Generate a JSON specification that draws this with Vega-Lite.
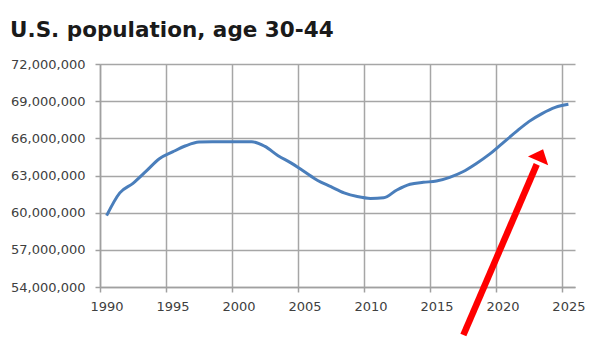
{
  "$schema": "https://vega.github.io/schema/vega-lite/v6.json",
  "autosize": "none",
  "width": 475,
  "height": 223,
  "padding": {"left": 100, "top": 64, "right": 36, "bottom": 61},
  "background": "white",
  "title": {
    "text": "U.S. population, age 30-44",
    "anchor": "start",
    "frame": "group",
    "orient": "top",
    "dx": -90,
    "offset": 0,
    "baseline": "alphabetic",
    "font": "DejaVu Sans",
    "fontSize": 21.5,
    "fontWeight": "bold",
    "color": "#1a1a1a"
  },
  "config": {
    "view": {"stroke": null},
    "axis": {
      "labelFont": "DejaVu Sans",
      "labelFontSize": 13,
      "labelColor": "#404040",
      "gridColor": "#a6a6a6",
      "gridWidth": 1.5,
      "domainColor": "#a0a0a0",
      "domainWidth": 1.5,
      "tickColor": "#a0a0a0",
      "tickWidth": 1.5,
      "tickSize": 5,
      "title": null
    }
  },
  "datasets": {
    "pop": [
      {"year": 1990, "population": 59760000},
      {"year": 1991, "population": 61600000},
      {"year": 1992, "population": 62370000},
      {"year": 1993, "population": 63350000},
      {"year": 1994, "population": 64350000},
      {"year": 1995, "population": 64900000},
      {"year": 1996, "population": 65400000},
      {"year": 1997, "population": 65700000},
      {"year": 1998, "population": 65730000},
      {"year": 1999, "population": 65730000},
      {"year": 2000, "population": 65730000},
      {"year": 2001, "population": 65730000},
      {"year": 2002, "population": 65350000},
      {"year": 2003, "population": 64600000},
      {"year": 2004, "population": 64000000},
      {"year": 2005, "population": 63300000},
      {"year": 2006, "population": 62600000},
      {"year": 2007, "population": 62100000},
      {"year": 2008, "population": 61600000},
      {"year": 2009, "population": 61300000},
      {"year": 2010, "population": 61150000},
      {"year": 2011, "population": 61200000},
      {"year": 2012, "population": 61830000},
      {"year": 2013, "population": 62290000},
      {"year": 2014, "population": 62450000},
      {"year": 2015, "population": 62550000},
      {"year": 2016, "population": 62850000},
      {"year": 2017, "population": 63300000},
      {"year": 2018, "population": 63950000},
      {"year": 2019, "population": 64700000},
      {"year": 2020, "population": 65600000},
      {"year": 2021, "population": 66500000},
      {"year": 2022, "population": 67350000},
      {"year": 2023, "population": 68000000},
      {"year": 2024, "population": 68500000},
      {"year": 2025, "population": 68750000}
    ],
    "arrow": [
      {"year": 2017.04, "population": 50130000, "year2": 2022.6, "population2": 63900000}
    ],
    "arrowhead": [
      {"year": 2022.75, "population": 64300000}
    ]
  },
  "encoding": {
    "x": {
      "field": "year",
      "type": "quantitative",
      "scale": {"domain": [1989.5, 2025.5], "nice": false, "zero": false},
      "axis": {
        "values": [1990, 1995, 2000, 2005, 2010, 2015, 2020, 2025],
        "format": "d",
        "grid": true,
        "tickOffset": -6.6,
        "labelOffset": 6.6,
        "labelPadding": 8,
        "labelFlush": false,
        "labelOverlap": false
      }
    },
    "y": {
      "field": "population",
      "type": "quantitative",
      "scale": {"domain": [54000000, 72000000], "nice": false, "zero": false},
      "axis": {
        "values": [54000000, 57000000, 60000000, 63000000, 66000000, 69000000, 72000000],
        "format": ",d",
        "grid": true,
        "labelPadding": 10,
        "labelOverlap": false,
        "labelFlush": false
      }
    }
  },
  "layer": [
    {
      "data": {"name": "pop"},
      "mark": {"type": "line", "color": "#4a7ebb", "strokeWidth": 3, "interpolate": "monotone"}
    },
    {
      "data": {"name": "arrow"},
      "mark": {"type": "rule", "color": "#ff0000", "strokeWidth": 6.5, "clip": false},
      "encoding": {
        "x2": {"field": "year2"},
        "y2": {"field": "population2"}
      }
    },
    {
      "data": {"name": "arrowhead"},
      "mark": {
        "type": "point",
        "shape": "M0,-1L1,0.15L-1,0.15Z",
        "size": 484,
        "angle": 23.3,
        "filled": true,
        "opacity": 1,
        "color": "#ff0000",
        "strokeWidth": 0
      }
    }
  ]
}
